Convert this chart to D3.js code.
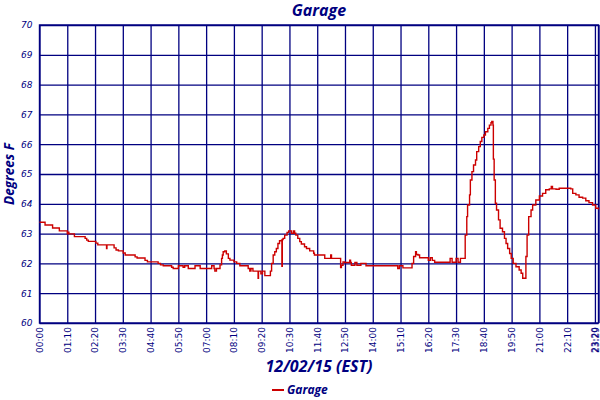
<!DOCTYPE html>
<html><head><meta charset="utf-8">
<script src="https://cdn.jsdelivr.net/npm/d3@7"></script>
<style>
body{margin:0;background:#fff}
svg{display:block}
</style></head>
<body><svg id="c" width="600" height="400"></svg>
<script>
// Data (time in HH:MM, temperature °F)
const times = ["00:00","00:14","00:33","00:50","01:10","01:12","01:14","01:28","01:55","01:59","02:03","02:22","02:27","02:49","02:50","03:08","03:13","03:19","03:31","03:36","03:40","04:01","04:06","04:11","04:26","04:32","04:39","04:59","05:05","05:12","05:33","05:37","05:50","06:02","06:06","06:15","06:32","06:45","07:14","07:20","07:22","07:26","07:35","07:39","07:41","07:43",
"07:47","07:51","07:56","08:00","08:10","08:17","08:25","08:46","08:50","08:53","08:58","09:11","09:12","09:18","09:22","09:28","09:39","09:42","09:45","09:49","09:53","09:57","10:01","10:05","10:10","10:11","10:12","10:14","10:18","10:24","10:28","10:35","10:40","10:43","10:46","10:51","10:56","11:00","11:08","11:13","11:21","11:31","11:33","11:59","12:14","12:16","12:39","12:41","12:45","12:49","13:02","13:04","13:06","13:15","13:20","13:30","13:43","14:59","15:03","15:07",
"15:16","15:37","15:39","15:43","15:48","15:50","15:54","15:58","16:15","16:20","16:25","16:30","16:36","17:09","17:15","17:20","17:30","17:35","17:41","17:49","17:53","17:57","17:59","18:04","18:06","18:10","18:14","18:19","18:22","18:27","18:31","18:35","18:40","18:44","18:50","18:54","18:58","19:00","19:03","19:04","19:06","19:09","19:12","19:17","19:21","19:27","19:32","19:36","19:40","19:45","19:49","19:54","20:01","20:09","20:14","20:18","20:25","20:26","20:29","20:33","20:39","20:43","20:51","21:00","21:08","21:16","21:25","21:30","21:33","21:42","21:50","22:07","22:19","22:24","22:32","22:40","22:49","22:57","23:05","23:14","23:22","23:29"];
const temps = [63.38,63.29,63.19,63.09,62.99,63.05,62.99,62.90,62.84,62.78,62.74,62.68,62.62,62.50,62.62,62.52,62.45,62.42,62.35,62.28,62.28,62.22,62.18,62.18,62.10,62.05,62.05,62.00,61.95,61.92,61.87,61.83,61.92,61.87,61.92,61.83,61.92,61.83,61.92,61.83,61.74,61.83,61.95,62.17,62.28,62.39,
62.42,62.32,62.17,62.11,62.05,62.00,61.92,61.83,61.74,61.83,61.74,61.50,61.74,61.65,61.74,61.59,61.59,61.74,62.00,62.28,62.39,62.50,62.67,62.76,62.78,61.90,62.80,62.84,62.95,63.04,63.09,63.01,63.09,63.01,62.95,62.84,62.73,62.65,62.56,62.50,62.42,62.34,62.28,62.17,62.28,62.17,61.86,61.94,62.05,62.03,62.11,62.03,61.94,62.03,61.94,62.00,61.92,61.92,61.83,61.92,
61.85,61.85,62.00,62.23,62.39,62.30,62.28,62.19,62.19,62.10,62.19,62.10,62.04,62.04,62.17,62.04,62.17,62.04,62.17,62.17,62.95,63.57,63.96,64.30,64.80,65.08,65.30,65.47,65.75,65.92,66.09,66.23,66.31,66.42,66.53,66.64,66.72,66.76,66.64,65.50,64.80,64.02,63.79,63.46,63.18,63.06,62.84,62.67,62.50,62.33,62.17,62.00,61.89,61.78,61.67,61.50,61.50,62.23,62.95,63.57,63.79,63.96,64.13,64.26,64.35,64.47,64.50,64.58,64.50,64.49,64.52,64.52,64.50,64.35,64.30,64.22,64.19,64.10,64.04,63.96,63.85,63.81];
const xTickLabels = ["00:00","01:10","02:20","03:30","04:40","05:50","07:00","08:10","09:20","10:30","11:40","12:50","14:00","15:10","16:20","17:30","18:40","19:50","21:00","22:10","23:20","23:29"];
const yTickValues = [60,61,62,63,64,65,66,67,68,69,70];
const seriesName = "Garage";
const chartTitle = "Garage";
const xTitle = "12/02/15 (EST)";
const yTitle = "Degrees F";

const toMin = s => { const [h,m] = s.split(":").map(Number); return h*60+m; };
const fmt = m => String(Math.floor(m/60)).padStart(2,"0")+":"+String(m%60).padStart(2,"0");
const data = times.map((t,i)=>({x:toMin(t), y:temps[i]}));
const navy = "#000080", red = "#cc0000";

const svg = d3.select("#c");
const L = 39.5, R = 598.5, T = 25, B = 323;
const x = d3.scaleLinear().domain([0, toMin(xTickLabels[xTickLabels.length-1])]).range([L, R]);
const y = d3.scaleLinear().domain([60, 70]).range([B, T]);

// horizontal grid + y labels
const ya = svg.append("g").attr("transform",`translate(${L},0)`)
  .call(d3.axisLeft(y).tickValues(yTickValues).tickSize(-(R-L)).tickPadding(7).tickFormat(d3.format("d")));
ya.select(".domain").remove();
ya.selectAll("line").attr("stroke", navy).attr("stroke-width", 1.3);
ya.selectAll("text").attr("fill", navy).attr("font-family","'DejaVu Sans', sans-serif")
  .attr("font-style","italic").attr("font-size", 9);

// vertical grid + x labels
const xa = svg.append("g").attr("transform",`translate(0,${B})`)
  .call(d3.axisBottom(x).tickValues(xTickLabels.map(toMin)).tickSize(-(B-T)).tickFormat(fmt));
xa.select(".domain").remove();
xa.selectAll("line").attr("stroke", navy).attr("stroke-width", 1.3);
const xt = xa.selectAll("text").attr("fill", navy).attr("font-family","'DejaVu Sans', sans-serif")
  .attr("font-size", 9).attr("text-anchor","end")
  .attr("transform","rotate(-90)").attr("x", -4).attr("y", 0).attr("dy","0.32em");
xt.filter((d,i,n)=>i===n.length-1).attr("dy","0.05em");

// border
svg.append("rect").attr("x",L).attr("y",T).attr("width",R-L).attr("height",B-T)
  .attr("fill","none").attr("stroke",navy).attr("stroke-width",1.4);

// series
const line = d3.line().x(d=>x(d.x)).y(d=>y(d.y)).curve(d3.curveStepAfter);
svg.append("path").datum(data).attr("d", line).attr("fill","none")
  .attr("stroke", red).attr("stroke-width", 1.4);

const tf = "'Open Sans', 'DejaVu Sans', sans-serif";
svg.append("text").attr("x",(L+R)/2).attr("y",16).attr("text-anchor","middle")
  .attr("font-family",tf).attr("font-weight","bold").attr("font-style","italic")
  .attr("font-size",16).attr("fill",navy).text(chartTitle);
svg.append("text").attr("x",(L+R)/2).attr("y",372).attr("text-anchor","middle")
  .attr("font-family",tf).attr("font-weight","bold").attr("font-style","italic")
  .attr("font-size",16).attr("fill",navy).text(xTitle);
svg.append("text").attr("transform",`translate(14,${(T+B)/2}) rotate(-90)`).attr("text-anchor","middle")
  .attr("font-family",tf).attr("font-weight","bold").attr("font-style","italic")
  .attr("font-size",13.5).attr("fill",navy).text(yTitle);

// legend
const lg = svg.append("g");
lg.append("line").attr("x1",272).attr("x2",284).attr("y1",390).attr("y2",390)
  .attr("stroke",red).attr("stroke-width",2);
lg.append("text").attr("x",287).attr("y",394).attr("font-family",tf).attr("font-weight","bold")
  .attr("font-style","italic").attr("font-size",12).attr("fill",navy).text(seriesName);
</script></body></html>
